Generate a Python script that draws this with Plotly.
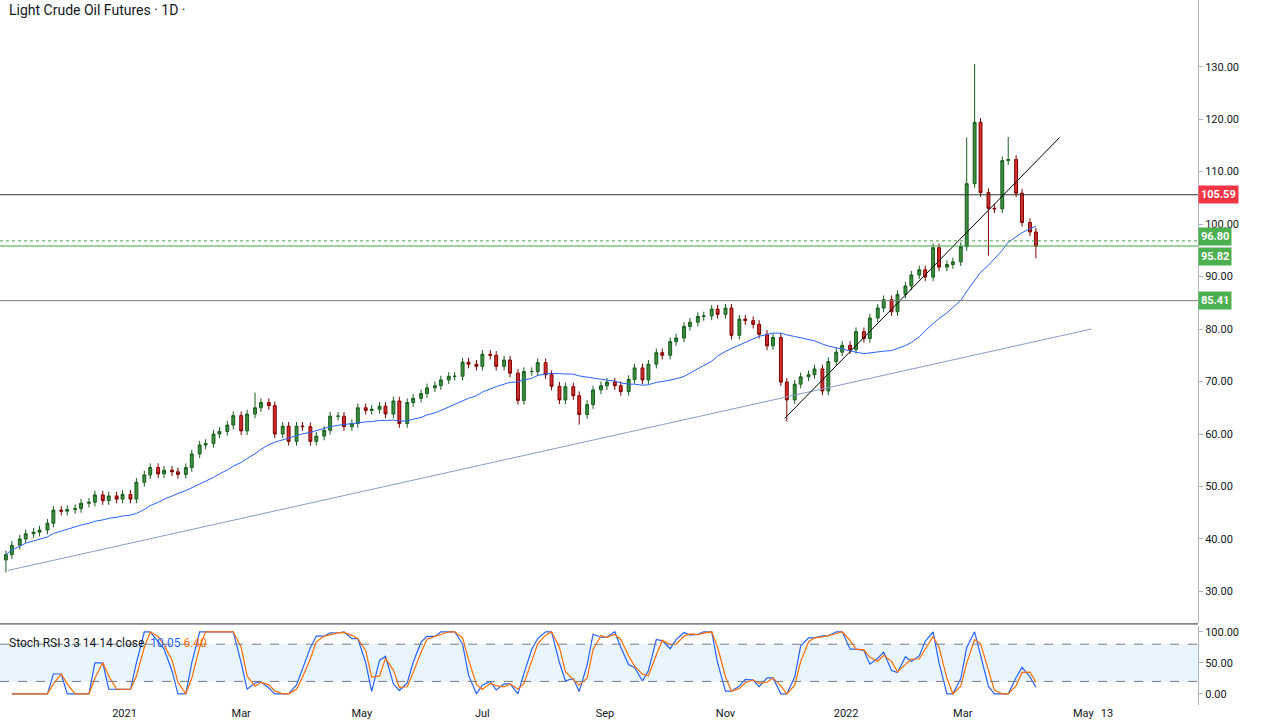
import numpy as np
import pandas as pd
import plotly.graph_objects as go
from plotly.subplots import make_subplots

# Twice-weekly closes (Mon / Thu)
closes = [37, 38.8, 40, 41, 41.3, 41.7, 43, 45.5,
          45.3, 45.6, 45.8, 46.8, 47, 48.4, 47.3, 48.2, 47.6, 48.5,
          47.6, 50.8, 52.2, 53.6, 52.4, 53.1, 52.8, 52.3,
          53.6, 56.2, 57.9, 58.2, 60, 60.5, 61.7, 63.5,
          60.6, 63.8, 65, 66, 65.4, 60, 61.5, 58.6, 61.5, 61.4,
          58.6, 59.6, 60.7, 63.4, 63.4, 61.4, 62, 65,
          64.5, 64.7, 65.3, 63.8, 66.3, 62, 66, 66.8,
          67.7, 68.8, 69.2, 70.3, 71, 71, 73.7, 73.3, 72.9, 75.2,
          75, 72.9, 74.1, 71.6, 66.4, 71.9, 71.9, 73.6,
          71.3, 69.1, 66.5, 69, 67.3, 63.7, 65.6, 68.4, 69.2, 69.9,
          69.2, 68.1, 70.4, 72.6, 70.3, 73.3, 75.5, 75,
          77.6, 78.3, 80.5, 81.3, 82.4, 82.5, 83.8, 82.8,
          84, 78.8, 81.9, 81.6, 80.9, 79, 76.8, 78.4, 69.9, 66.5,
          69.5, 70.9, 71.3, 72.4, 68.2, 73.8, 75.6, 76.9,
          76.1, 79.5, 78.2, 82.1, 84, 85.6, 83.3, 86.6,
          88.2, 90.3, 91.3, 89.9, 95.5, 91.8, 92.3, 92.8,
          95.7, 107.7, 119.4, 106, 103, 102.9, 112.1, 112.3, 105.9, 100.3,
          98.5, 95.8]
high_overrides = {"2022-03-07": 130.5, "2022-03-03": 116.5, "2022-03-24": 116.6, "2021-03-08": 67.9}
low_overrides = {"2020-11-02": 33.6, "2021-12-02": 62.4, "2022-03-14": 94.0, "2021-08-19": 61.8,
                 "2022-04-07": 93.5}

h_levels = [105.59, 85.41]
green_levels = [96.80, 95.82]
blue_trend_x = ["2020-11-03", "2022-05-05"]
blue_trend_y = [34.0, 80.0]
black_trend_x = ["2021-12-01", "2022-04-19"]
black_trend_y = [63.0, 116.5]
x_ticks = ["2020-11-01", "2021-01-01", "2021-03-01", "2021-05-01", "2021-07-01", "2021-09-01",
           "2021-11-01", "2022-01-01", "2022-03-01", "2022-05-01", "2022-05-13"]
x_tick_text = ["Nov", "2021", "Mar", "May", "Jul", "Sep", "Nov", "2022", "Mar", "May", "13"]

dates = pd.date_range("2020-11-02", "2022-05-01", freq="W-MON").union(
    pd.date_range("2020-11-02", "2022-05-01", freq="W-THU"))[:len(closes)]
close = pd.Series(closes, index=dates)
opens = close.shift(1).fillna(close.iloc[0] - 1)
highs = np.maximum(opens, close) + 0.8
lows = np.minimum(opens, close) - 0.8
for d, v in high_overrides.items():
    if pd.Timestamp(d) in highs.index:
        highs[pd.Timestamp(d)] = v
for d, v in low_overrides.items():
    if pd.Timestamp(d) in lows.index:
        lows[pd.Timestamp(d)] = v

ma = close.rolling(20, min_periods=1).mean()

# Stoch RSI (short windows to suit the twice-weekly sampling)
n = 5
delta = close.diff()
up = delta.clip(lower=0).rolling(n, min_periods=1).mean()
dn = (-delta.clip(upper=0)).rolling(n, min_periods=1).mean()
rsi = 100 - 100 / (1 + up / dn.replace(0, 1e-9))
lo, hi = rsi.rolling(n, min_periods=1).min(), rsi.rolling(n, min_periods=1).max()
st = (rsi - lo) / (hi - lo).replace(0, 1)
k = (st * 100).rolling(2, min_periods=1).mean()
d_line = k.rolling(2, min_periods=1).mean()

fig = make_subplots(rows=2, cols=1, shared_xaxes=True, row_heights=[0.887, 0.113], vertical_spacing=0.003)
fig.add_trace(go.Candlestick(x=dates, open=opens, high=highs, low=lows, close=close,
                             increasing=dict(line=dict(color="#1b5e20", width=1), fillcolor="#388e3c"),
                             decreasing=dict(line=dict(color="#7f0000", width=1), fillcolor="#d32f2f"),
                             whiskerwidth=0, showlegend=False), row=1, col=1)
fig.add_trace(go.Scatter(x=dates, y=ma, mode="lines", line=dict(color="#2962ff", width=1),
                         showlegend=False), row=1, col=1)
fig.add_trace(go.Scatter(x=blue_trend_x, y=blue_trend_y, mode="lines",
                         line=dict(color="#8c9bc4", width=1), showlegend=False), row=1, col=1)
fig.add_trace(go.Scatter(x=black_trend_x, y=black_trend_y, mode="lines",
                         line=dict(color="black", width=1), showlegend=False), row=1, col=1)
for lv, c in zip(h_levels, ["#333333", "#777777"]):
    fig.add_hline(y=lv, line=dict(color=c, width=1), row=1, col=1)
fig.add_hline(y=green_levels[0], line=dict(color="#43a047", width=1, dash="dot"), row=1, col=1)
fig.add_hline(y=green_levels[1], line=dict(color="#43a047", width=1), row=1, col=1)

fig.add_shape(type="rect", xref="x2 domain", yref="y2", x0=0, x1=1, y0=20, y1=80,
              fillcolor="rgba(33,150,243,0.1)", line_width=0, layer="below")
for lv in [80, 20]:
    fig.add_shape(type="line", xref="x2 domain", yref="y2", x0=0, x1=1, y0=lv, y1=lv,
                  line=dict(color="#787b86", width=1, dash="dash"))
fig.add_shape(type="line", xref="paper", yref="paper", x0=0, x1=1, y0=0.115, y1=0.115,
              line=dict(color="#2a2e39", width=1))
fig.add_trace(go.Scatter(x=dates, y=k, mode="lines", line=dict(color="#2962ff", width=1.2),
                         showlegend=False), row=2, col=1)
fig.add_trace(go.Scatter(x=dates, y=d_line, mode="lines", line=dict(color="#ff6d00", width=1.2),
                         showlegend=False), row=2, col=1)

xr = ["2020-10-30", "2022-06-28"]
fig.update_xaxes(range=xr, showgrid=False, rangeslider_visible=False, tickvals=x_ticks, automargin=False,
                 ticktext=x_tick_text, tickfont=dict(size=11, color="#131722"), showline=False)
fig.update_yaxes(side="right", showgrid=False, tickfont=dict(size=11, color="#131722"), automargin=False,
                 ticks="outside", ticklen=4, tickcolor="#b2b5be", showline=True, linecolor="#b2b5be")
fig.update_yaxes(range=[23.9, 142.7], tickvals=list(range(30, 140, 10)),
                 ticktext=["%.2f" % v for v in range(30, 140, 10)], row=1, col=1)
fig.update_yaxes(range=[-18, 110], tickvals=[0, 50, 100], ticktext=["0.00", "50.00", "100.00"], row=2, col=1)

labels = [(105.59, "#f23645", 0), (96.80, "#4caf50", 4), (95.82, "#4caf50", -10), (85.41, "#4caf50", 0)]
for v, c, dy in labels:
    fig.add_annotation(xref="paper", yref="y", x=1.0, y=v, yshift=dy,
                       text="<b>%.2f</b>" % v, showarrow=False, xanchor="left",
                       font=dict(color="white", size=11), bgcolor=c, borderpad=2)
fig.add_annotation(xref="paper", yref="paper", x=0.006, y=1.0, yanchor="top", xanchor="left",
                   text="Light Crude Oil Futures · 1D ·", showarrow=False,
                   font=dict(size=14, color="#131722"))
fig.add_annotation(xref="paper", yref="paper", x=0.006, y=0.075, xanchor="left",
                   text="Stoch RSI 3 3 14 14 close  <span style='color:#2962ff'>10.05</span> "
                        "<span style='color:#ff6d00'>6.40</span>",
                   showarrow=False, font=dict(size=12, color="#131722"))
fig.update_layout(width=1280, height=728, margin=dict(l=0, r=82, t=0, b=23),
                  plot_bgcolor="white", paper_bgcolor="white", font=dict(family="Roboto"))
fig.write_html("out.html", config={"displayModeBar": False},
               post_script="document.body.style.margin='0';")
